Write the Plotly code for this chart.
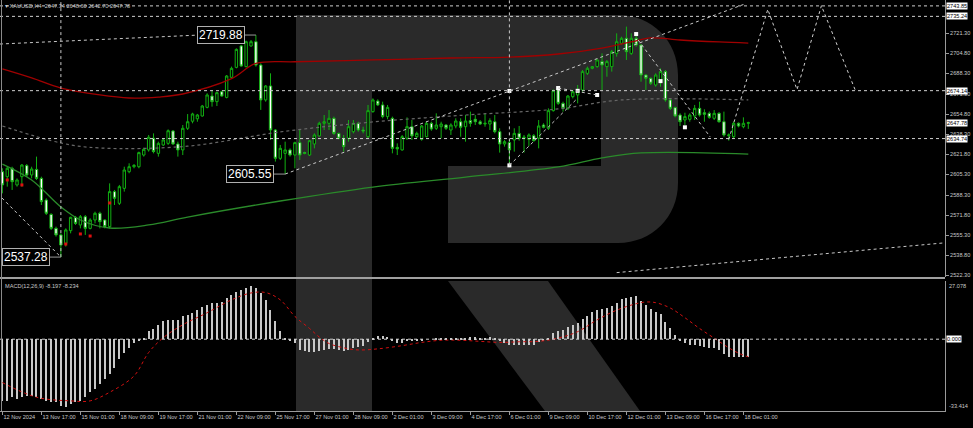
import plotly.graph_objects as go

# ---------------- data ----------------
bar_index = list(range(154))
open_ = [2607.5,2603.4,2610.3,2596.6,2603.4,2612.5,2604.8,2609.4,2602.0,2584.2,
         2572.4,2560.9,2555.5,2548.6,2559.0,2570.0,2563.7,2570.5,2560.9,2567.8,
         2573.3,2567.8,2562.3,2591.1,2581.5,2593.8,2607.5,2611.6,2611.6,2621.2,
         2625.4,2635.0,2622.6,2629.5,2630.8,2641.0,2630.3,2625.4,2643.2,2649.0,
         2651.0,2653.3,2660.4,2669.7,2665.1,2673.3,2668.6,2685.1,2693.3,2710.9,
         2693.9,2710.9,2714.4,2695.2,2666.5,2678.0,2641.8,2618.5,2622.6,2625.4,
         2621.2,2631.4,2623.2,2621.2,2630.3,2636.9,2647.3,2647.3,2651.4,2639.0,
         2635.0,2635.0,2640.4,2647.3,2641.8,2636.3,2656.9,2665.6,2662.4,2652.8,
         2651.4,2627.5,2625.4,2635.0,2644.5,2636.3,2634.1,2636.3,2647.3,2643.2,
         2644.5,2645.9,2641.8,2645.1,2648.6,2644.5,2649.5,2650.6,2648.6,2646.7,
         2646.7,2648.6,2640.4,2630.3,2631.4,2633.6,2639.0,2635.0,2634.1,2637.1,
         2635.0,2645.9,2643.2,2657.7,2676.0,2663.7,2659.6,2669.2,2670.6,2674.7,
         2688.4,2692.5,2693.9,2698.0,2693.9,2693.9,2704.8,2713.1,2717.2,2704.8,
         2717.2,2711.7,2687.0,2684.3,2678.8,2681.5,2689.8,2666.5,2660.2,2654.1,
         2650.0,2650.6,2653.3,2659.6,2656.0,2655.5,2651.4,2655.5,2648.6,2637.1,
         2636.3,2647.3,2644.5,2647.34]
high = [2610.3,2611.6,2611.6,2602.0,2613.8,2613.8,2611.6,2619.9,2603.4,2585.6,
        2573.3,2562.3,2556.8,2560.9,2570.5,2571.1,2571.9,2571.9,2569.2,2574.6,
        2574.6,2568.3,2597.9,2592.5,2596.6,2611.6,2614.4,2613.8,2624.0,2627.2,
        2637.7,2639.0,2632.2,2635.0,2642.3,2641.8,2632.2,2645.9,2654.9,2656.0,
        2655.0,2662.4,2672.0,2674.7,2673.3,2674.1,2687.0,2693.9,2708.9,2711.7,
        2715.3,2715.8,2719.88,2696.6,2678.8,2688.4,2642.5,2629.5,2632.2,2626.7,
        2632.2,2641.8,2624.0,2633.6,2639.0,2648.6,2654.1,2658.2,2652.8,2639.6,
        2637.7,2650.0,2650.0,2648.6,2644.5,2662.4,2667.8,2667.0,2665.1,2662.4,
        2652.8,2630.8,2637.7,2652.2,2650.0,2640.4,2645.9,2648.6,2648.6,2655.5,
        2648.6,2646.7,2647.3,2651.4,2651.4,2654.1,2656.9,2654.1,2650.0,2655.5,
        2651.4,2654.1,2643.2,2633.6,2633.6,2643.2,2645.1,2637.7,2639.0,2638.5,
        2650.0,2647.3,2659.6,2675.2,2677.4,2665.1,2670.6,2674.7,2678.8,2691.1,
        2693.9,2694.4,2700.0,2704.8,2699.4,2707.6,2721.3,2718.5,2726.8,2721.3,
        2721.3,2712.0,2687.5,2685.0,2688.4,2692.5,2691.1,2667.8,2661.0,2655.5,
        2656.0,2655.5,2662.4,2665.1,2658.8,2657.0,2658.2,2656.5,2656.9,2639.0,
        2648.6,2648.0,2652.2,2648.60]
low = [2589.7,2595.2,2592.5,2595.2,2595.2,2603.4,2602.0,2600.7,2580.1,2571.9,
       2559.6,2554.1,2537.28,2545.9,2556.8,2563.7,2560.9,2555.5,2560.1,2565.0,
       2560.9,2560.9,2560.9,2580.1,2580.1,2591.1,2606.2,2610.3,2610.3,2619.9,
       2624.0,2622.6,2619.9,2628.6,2629.5,2629.5,2619.9,2621.2,2641.8,2647.3,
       2648.6,2652.8,2659.6,2661.0,2661.5,2669.2,2667.8,2684.3,2692.5,2693.9,
       2693.3,2710.3,2693.9,2658.3,2665.1,2633.6,2615.8,2617.1,2605.55,2619.9,
       2610.3,2617.1,2621.8,2620.4,2626.7,2636.3,2641.8,2641.8,2637.7,2634.1,
       2624.0,2632.2,2639.0,2640.4,2639.0,2635.0,2656.0,2661.5,2651.4,2650.6,
       2622.6,2621.2,2624.8,2633.6,2633.6,2635.0,2633.0,2635.8,2641.2,2641.8,
       2635.0,2641.8,2637.7,2643.2,2636.3,2632.2,2644.5,2645.9,2645.9,2644.5,
       2641.8,2639.0,2623.2,2628.1,2612.5,2624.0,2633.0,2623.2,2628.6,2632.2,
       2626.7,2643.2,2641.8,2656.9,2662.4,2656.9,2658.2,2667.8,2663.7,2673.3,
       2687.0,2691.7,2693.0,2674.7,2685.6,2689.8,2702.1,2712.0,2699.4,2703.5,
       2710.3,2681.5,2674.7,2678.8,2677.4,2677.4,2665.1,2658.2,2652.2,2645.1,
       2645.9,2648.6,2650.0,2652.8,2648.6,2651.0,2650.0,2647.8,2636.3,2633.0,
       2635.0,2644.0,2643.2,2642.70]
close = [2596.6,2610.3,2599.3,2600.7,2613.0,2604.8,2609.7,2602.0,2582.9,2573.3,
         2560.9,2555.5,2547.2,2559.6,2570.0,2565.0,2570.5,2560.9,2567.8,2573.3,
         2566.4,2562.3,2591.1,2585.6,2595.2,2608.9,2611.6,2612.7,2623.2,2625.9,
         2635.8,2624.0,2630.8,2633.6,2641.2,2630.3,2625.4,2643.2,2648.6,2655.0,
         2654.1,2661.5,2670.6,2665.1,2672.5,2669.7,2686.2,2692.5,2708.1,2694.4,
         2714.4,2714.4,2695.2,2666.5,2678.0,2641.8,2618.5,2626.7,2625.4,2621.2,
         2631.4,2621.2,2622.6,2633.0,2637.7,2647.3,2648.6,2651.4,2639.0,2635.0,
         2628.1,2644.5,2647.3,2641.8,2641.0,2657.7,2666.5,2662.4,2652.8,2660.4,
         2626.7,2626.2,2636.3,2644.5,2636.9,2639.0,2645.1,2647.3,2642.6,2645.9,
         2646.7,2643.2,2645.9,2649.2,2644.0,2649.2,2647.3,2648.6,2646.7,2647.3,
         2649.5,2640.4,2630.3,2632.2,2625.4,2639.0,2635.0,2635.8,2637.7,2633.0,
         2645.1,2644.0,2657.7,2674.1,2663.7,2659.6,2669.7,2673.3,2674.7,2689.8,
         2692.5,2693.9,2699.4,2695.2,2698.0,2706.2,2714.4,2717.2,2706.2,2717.2,
         2711.7,2687.0,2684.3,2680.2,2687.0,2689.8,2666.5,2659.6,2653.3,2648.6,
         2652.8,2654.1,2659.6,2654.1,2654.7,2652.2,2655.5,2648.6,2637.7,2637.7,
         2647.3,2645.1,2647.3,2647.78]

tick_index = list(range(0, 153, 8))
tick_text = ["12 Nov 2024", "13 Nov 17:00", "15 Nov 01:00", "18 Nov 09:00", "19 Nov 17:00",
             "21 Nov 01:00", "22 Nov 09:00", "25 Nov 17:00", "27 Nov 01:00", "28 Nov 09:00",
             "2 Dec 01:00", "3 Dec 09:00", "4 Dec 17:00", "6 Dec 01:00", "9 Dec 09:00",
             "10 Dec 17:00", "12 Dec 01:00", "13 Dec 09:00", "16 Dec 17:00", "18 Dec 01:00"]
price_ticks = [2522.30, 2538.80, 2555.30, 2571.80, 2588.30, 2605.30, 2621.80, 2638.30,
               2654.80, 2671.30, 2688.30, 2704.80, 2721.30]

# moving averages (sampled along the bars)
ma_red_idx = [0, 6, 12, 20, 26, 32, 37, 47, 52, 60, 76, 92, 104, 114, 123, 129, 133, 139, 147, 153]
ma_red_val = [2692.0, 2684.6, 2676.3, 2670.6, 2668.1, 2668.9, 2671.4, 2684.0, 2696.5, 2697.9,
              2699.4, 2701.0, 2701.8, 2704.3, 2709.2, 2714.2, 2717.5, 2715.8, 2714.2, 2713.3]
ma_green_idx = [0, 6, 12, 16, 22, 30, 38, 57, 76, 95, 114, 123, 131, 153]
ma_green_val = [2613.8, 2600.7, 2578.5, 2567.8, 2561.2, 2563.7, 2570.2, 2583.4, 2594.9,
                2603.1, 2611.4, 2618.8, 2622.9, 2622.0]
ma_gray_idx = [0, 12, 20, 38, 57, 76, 95, 114, 127, 153]
ma_gray_val = [2645.1, 2631.1, 2627.0, 2628.5, 2640.2, 2648.4, 2654.1, 2659.1, 2666.5, 2666.5]

macd_hist = [-28.7,-28.7,-27.1,-27.9,-27.1,-26.3,-26.3,-27.1,-27.9,-28.7,
             -29.4,-29.4,-31.0,-31.7,-30.2,-29.4,-28.7,-27.1,-24.8,-23.3,
             -21.0,-18.7,-16.3,-13.3,-9.4,-6.3,-4.0,-1.7,-0.5,0.6,
             3.6,4.7,6.7,8.3,9.0,9.0,9.0,10.6,11.4,12.4,
             13.7,15.2,16.0,16.7,17.0,17.5,19.0,20.6,22.1,22.9,
             23.7,24.7,23.7,21.4,18.3,13.7,8.3,3.7,0.6,-1.0,
             -2.0,-4.8,-5.5,-6.0,-6.0,-5.5,-5.0,-4.5,-4.5,-5.0,
             -5.5,-5.0,-4.0,-3.5,-3.0,-1.5,0.5,1.5,1.5,1.0,
             -1.0,-2.0,-2.0,-1.0,-1.0,-1.0,-0.5,0.0,0.0,0.3,
             0.3,0.2,0.3,0.6,0.5,0.6,0.8,0.8,0.7,0.7,
             0.8,0.3,-1.0,-1.8,-2.8,-2.5,-2.5,-2.6,-2.5,-2.6,
             -1.5,-1.0,0.5,3.0,4.0,4.5,5.5,6.5,7.5,9.5,
             11.0,12.5,13.8,14.0,14.5,15.5,17.0,18.5,19.0,19.8,
             20.0,18.0,16.0,14.0,12.5,11.5,8.0,5.0,2.0,-0.5,
             -2.0,-2.8,-2.5,-3.0,-3.5,-4.0,-4.2,-5.0,-7.0,-8.5,
             -8.5,-8.5,-8.4,-8.197]
signal_idx = [0, 7, 14, 18, 22, 27, 30, 33, 37, 42, 47, 51, 54, 57, 60, 63, 65, 67, 70, 73,
              77, 82, 86, 90, 94, 98, 102, 106, 110, 114, 118, 122, 126, 130, 132, 134, 137,
              140, 143, 146, 149, 151, 153]
signal_val = [-20.2, -27.0, -28.7, -28.7, -24.7, -17.1, -6.2, 0.7, 6.7, 12.3, 18.3, 21.5,
              21.7, 18.3, 10.6, 5.0, 1.0, -2.0, -4.0, -5.0, -4.5, -3.0, -1.5, -0.5, -0.5,
              -1.0, -1.5, -1.2, -1.0, 0.5, 3.5, 9.0, 13.5, 16.5, 17.3, 17.0, 14.5, 10.0,
              5.0, 0.5, -4.0, -6.5, -8.234]

level_lines = [2743.85, 2735.24, 2674.14, 2634.74]
last_price = 2647.78
peak_labels = [(12, 2537.28), (52, 2719.88), (58, 2605.55)]
trend_lines = [(-0.5, 2712.5, 40.5, 2719.9),
               (-0.1, 2585.9, 12, 2537.28),
               (58, 2605.55, 152, 2745.0),
               (126, 2524.5, 193.3, 2549.0),
               (104, 2612.7, 118, 2668.0),
               (114, 2676.3, 122, 2670.6),
               (130.4, 2715.8, 145.2, 2636.0)]
forecast_idx = [149, 157, 163, 168, 175]
forecast_val = [2634.0, 2741.0, 2675.0, 2744.0, 2674.0]
white_mark_idx = [104, 104, 114, 118, 122, 130, 135, 140]
white_mark_val = [2673.9, 2612.7, 2676.3, 2674.0, 2670.6, 2720.7, 2682.0, 2644.0]
red_mark_idx = [1, 4, 13, 16, 18, 22]
red_mark_val = [2600.7, 2596.6, 2548.0, 2556.3, 2554.6, 2581.8]

# ---------------- styling ----------------
W, H = 973, 428
ML, MR, MT, MB = 0, 28, 0, 17
PW, PH = W - ML - MR, H - MT - MB
GREEN = "#12b012"
AXC = "#9a9a9a"
TXT = "#c8c8c8"
FONT = "Liberation Sans, Arial, sans-serif"
FS = 5.6

def px(xp, yp):
    return xp / PW, 1 - yp / PH

fig = go.Figure()

fig.add_trace(go.Candlestick(
    x=bar_index, open=open_, high=high, low=low, close=close,
    increasing=dict(line=dict(color=GREEN, width=1), fillcolor="black"),
    decreasing=dict(line=dict(color=GREEN, width=1), fillcolor="white"),
    whiskerwidth=0, showlegend=False, hoverinfo="skip", xaxis="x", yaxis="y"))

fig.add_trace(go.Scatter(x=ma_gray_idx, y=ma_gray_val, mode="lines", line_shape="spline",
                         line=dict(color="#686868", width=1.2, dash="dot"),
                         showlegend=False, hoverinfo="skip", xaxis="x", yaxis="y"))
fig.add_trace(go.Scatter(x=ma_red_idx, y=ma_red_val, mode="lines", line_shape="spline",
                         line=dict(color="#a00000", width=1.3),
                         showlegend=False, hoverinfo="skip", xaxis="x", yaxis="y"))
fig.add_trace(go.Scatter(x=ma_green_idx, y=ma_green_val, mode="lines", line_shape="spline",
                         line=dict(color="#2a8a2a", width=1.3),
                         showlegend=False, hoverinfo="skip", xaxis="x", yaxis="y"))
fig.add_trace(go.Scatter(x=forecast_idx, y=forecast_val, mode="lines",
                         line=dict(color="#d0d0d0", width=1, dash="dot"),
                         showlegend=False, hoverinfo="skip", xaxis="x", yaxis="y"))
fig.add_trace(go.Scatter(x=white_mark_idx, y=white_mark_val, mode="markers",
                         marker=dict(symbol="square", size=4, color="white"),
                         showlegend=False, hoverinfo="skip", xaxis="x", yaxis="y"))
fig.add_trace(go.Scatter(x=red_mark_idx, y=red_mark_val, mode="markers",
                         marker=dict(symbol="square", size=3, color="#e01010"),
                         showlegend=False, hoverinfo="skip", xaxis="x", yaxis="y"))

fig.add_trace(go.Bar(x=bar_index, y=macd_hist, width=0.22, marker=dict(color="#c8c8c8", line=dict(width=0)),
                     showlegend=False, hoverinfo="skip", xaxis="x2", yaxis="y2"))
fig.add_trace(go.Scatter(x=signal_idx, y=signal_val, mode="lines", line_shape="spline",
                         line=dict(color="#d01010", width=1, dash="dot"),
                         showlegend=False, hoverinfo="skip", xaxis="x2", yaxis="y2"))

shapes = []
# watermark "R"
def path_px(points):
    s = ""
    for cmd, pts in points:
        s += cmd
        s += " ".join(f"{px(a, b)[0]:.5f},{px(a, b)[1]:.5f}" for a, b in pts) + " "
    return s + "Z"

r_path = path_px([
    ("M", [(296, 411)]), ("L", [(296, 15)]), ("L", [(618, 15)]),
    ("C", [(652, 15), (678, 41), (678, 75)]), ("L", [(678, 183)]),
    ("C", [(678, 217), (652, 243), (618, 243)]), ("L", [(448, 243)]),
    ("L", [(448, 166)]), ("L", [(601, 166)]), ("L", [(601, 90)]),
    ("L", [(372, 90)]), ("L", [(372, 411)]),
])
shapes.append(dict(type="path", path=r_path, xref="paper", yref="paper",
                   fillcolor="#2a2a2a", line=dict(width=0), layer="below"))
leg_path = path_px([("M", [(448, 281)]), ("L", [(548, 281)]), ("L", [(640, 411)]), ("L", [(545, 411)])])
shapes.append(dict(type="path", path=leg_path, xref="paper", yref="paper",
                   fillcolor="#2a2a2a", line=dict(width=0), layer="below"))

for lv in level_lines:
    shapes.append(dict(type="line", xref="paper", x0=0, x1=1, yref="y", y0=lv, y1=lv,
                       line=dict(color="#cfcfcf", width=1, dash="dot")))
shapes.append(dict(type="line", xref="paper", x0=0, x1=1, yref="y2", y0=0, y1=0,
                   line=dict(color="#cfcfcf", width=1, dash="dot")))
for x0, y0, x1, y1 in trend_lines:
    shapes.append(dict(type="line", xref="x", yref="y", x0=x0, y0=y0, x1=x1, y1=y1,
                       line=dict(color="#c8c8c8", width=1, dash="dot")))
# vertical markers at the swing lows
shapes.append(dict(type="line", xref="x", yref="y", x0=12, x1=12, y0=2537.28, y1=2748.7,
                   line=dict(color="#c8c8c8", width=1, dash="dot")))
shapes.append(dict(type="line", xref="x", yref="y", x0=104, x1=104, y0=2612.7, y1=2748.7,
                   line=dict(color="#c8c8c8", width=1, dash="dot")))
# panel separator and left border
sy = px(0, 278)[1]
shapes.append(dict(type="line", xref="paper", yref="paper", x0=0, x1=1, y0=sy, y1=sy,
                   line=dict(color="#a0a0a0", width=2)))
shapes.append(dict(type="line", xref="paper", yref="paper", x0=px(1.5, 0)[0], x1=px(1.5, 0)[0],
                   y0=0, y1=1, line=dict(color="#8a8a8a", width=1)))

annotations = []
annotations.append(dict(xref="paper", yref="paper", x=0.003, y=0.998, xanchor="left", yanchor="top",
                        text="▾ XAUUSD,H4  2647.34 2648.60 2642.70 2647.78", showarrow=False,
                        font=dict(size=FS, color=TXT, family=FONT)))
annotations.append(dict(xref="paper", yref="paper", x=0.003, y=px(0, 281)[1], xanchor="left", yanchor="top",
                        text="MACD(12,26,9) -8.197 -8.234", showarrow=False,
                        font=dict(size=FS, color=TXT, family=FONT)))
for lv in level_lines + [last_price]:
    annotations.append(dict(xref="paper", yref="y", x=1, y=lv, xanchor="left", xshift=1,
                            text=f"{lv:.2f}", showarrow=False, bgcolor="white", borderpad=0,
                            font=dict(size=FS, color="black", family=FONT)))
annotations.append(dict(xref="paper", yref="y2", x=1, y=0, xanchor="left", xshift=1,
                        text="0.000", showarrow=False, bgcolor="white", borderpad=0,
                        font=dict(size=FS, color="black", family=FONT)))
annotations.append(dict(xref="paper", yref="y2", x=1, y=27.078, xanchor="left", yanchor="top", xshift=2,
                        text="27.078", showarrow=False, font=dict(size=FS, color=TXT, family=FONT)))
annotations.append(dict(xref="paper", yref="y2", x=1, y=-33.414, xanchor="left", yanchor="bottom", xshift=2,
                        text="-33.414", showarrow=False, font=dict(size=FS, color=TXT, family=FONT)))
for idx, val in peak_labels:
    shapes.append(dict(type="line", xref="x", yref="y", x0=idx - 2.3, x1=idx, y0=val, y1=val,
                       line=dict(color="#9a9a9a", width=1)))
    annotations.append(dict(xref="x", yref="y", x=idx - 2.3, y=val, xanchor="right",
                            text=f"{val:.2f}", showarrow=False, bgcolor="black",
                            bordercolor="#b0b0b0", borderwidth=1, borderpad=1,
                            font=dict(size=12, color="white", family=FONT)))

fig.update_layout(
    width=W, height=H, margin=dict(l=ML, r=MR, t=MT, b=MB),
    paper_bgcolor="black", plot_bgcolor="black", showlegend=False, bargap=0,
    shapes=shapes, annotations=annotations,
    xaxis=dict(domain=[0, 1], range=[-0.49, 193.35], anchor="y", showticklabels=False,
               showgrid=False, zeroline=False, rangeslider=dict(visible=False), fixedrange=True),
    xaxis2=dict(domain=[0, 1], range=[-0.49, 193.35], anchor="y2", matches="x",
                showgrid=False, zeroline=False, tickmode="array", tickvals=tick_index,
                ticktext=tick_text, ticks="outside", ticklen=3, tickcolor=AXC, tickangle=0,
                ticklabelposition="outside right", showline=True, linecolor=AXC,
                tickfont=dict(size=FS, color=TXT, family=FONT)),
    yaxis=dict(domain=[1 - 277 / PH, 1], range=[2520.9, 2748.7], side="right", anchor="x",
               showgrid=False, zeroline=False, tickmode="array", tickvals=price_ticks,
               ticktext=[f"{v:.2f}" for v in price_ticks], ticks="outside", ticklen=3,
               tickcolor=AXC, showline=True, linecolor=AXC,
               tickfont=dict(size=FS, color=TXT, family=FONT)),
    yaxis2=dict(domain=[0, 1 - 281 / PH], range=[-33.414, 27.078], side="right", anchor="x2",
                showgrid=False, zeroline=False, showticklabels=False, ticks="",
                showline=True, linecolor=AXC),
)

fig.write_html("out.html", config={"displayModeBar": False},
               post_script="document.body.style.margin='0';document.body.style.overflow='hidden';")
